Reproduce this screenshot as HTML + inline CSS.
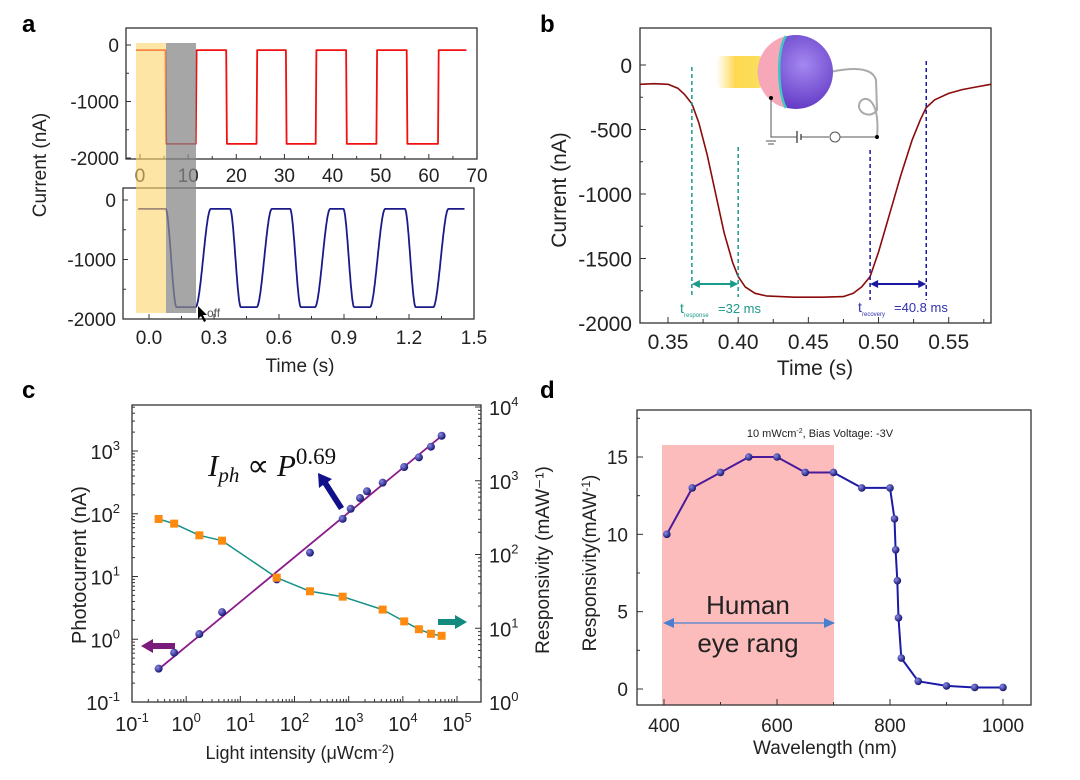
<!DOCTYPE html>
<html><head><meta charset="utf-8"><style>
html,body{margin:0;padding:0;background:#fff;}
svg{display:block;font-family:"Liberation Sans",sans-serif;}
</style></head><body>
<svg id="fig" width="1080" height="780" viewBox="0 0 1080 780" xmlns="http://www.w3.org/2000/svg">
<defs>
<radialGradient id="sph" cx="0.6" cy="0.4" r="0.7"><stop offset="0" stop-color="#a488f0"/><stop offset="1" stop-color="#5a2fc0"/></radialGradient>
<radialGradient id="dot" cx="0.35" cy="0.35" r="0.7"><stop offset="0" stop-color="#8a8ae8"/><stop offset="1" stop-color="#10106a"/></radialGradient>
<linearGradient id="glow" x1="0" x2="1"><stop offset="0" stop-color="#ffe070" stop-opacity="0"/><stop offset="0.4" stop-color="#ffd850"/><stop offset="1" stop-color="#f8e060"/></linearGradient>
</defs>
<g id="root"></g>
</svg>
<script>
// ---------- data ----------
const aTopFallEdges = [5.3, 17.9, 30.3, 42.8, 55.4];
const aTopRiseEdges = [11.6, 24.2, 36.5, 49.1, 61.9];
const aTopHigh = -90, aTopLow = -1750;
const aTopXTicks = [0,10,20,30,40,50,60,70];
const aYTicks = [0,-1000,-2000];
const aBotFallEdges = [0.077, 0.374, 0.651, 0.897, 1.181];
const aBotRiseEdges = [0.215, 0.497, 0.766, 1.020, 1.312];
const aBotHigh = -150, aBotLow = -1800;
const aBotXTicks = [0.0,0.3,0.6,0.9,1.2,1.5];
const bTimes = [0.330,0.340,0.350,0.357,0.362,0.367,0.372,0.378,0.384,0.390,0.396,0.400,0.405,0.412,0.420,0.440,0.460,0.475,0.482,0.488,0.494,0.500,0.508,0.516,0.524,0.530,0.534,0.540,0.550,0.560,0.570,0.580];
const bCurrent = [-150,-145,-150,-180,-230,-300,-450,-700,-1000,-1300,-1530,-1640,-1720,-1770,-1790,-1800,-1800,-1795,-1770,-1720,-1640,-1450,-1150,-850,-580,-420,-330,-270,-220,-190,-170,-150];
const bXTicks = [0.35,0.40,0.45,0.50,0.55];
const bYTicks = [0,-500,-1000,-1500,-2000];
const cIntensity = [0.31,0.6,1.75,4.6,47,193,775,1090,1620,2180,4240,10600,19800,33000,52000];
const cPhotocurrent = [0.34,0.61,1.21,2.7,9.0,24,83,120,178,228,313,556,793,1170,1750];
const cRespIntensity = [0.31,0.6,1.75,4.6,47,193,775,4240,10600,19800,33000,52000];
const cResponsivity = [303,262,182,154,48.5,31.7,26.8,17.9,12.4,9.7,8.4,7.9];
const cFitX = [0.306, 52000];
const cFitY = [0.33, 1740];
const cXDecades = [-1,0,1,2,3,4,5];
const cYDecades = [-1,0,1,2,3];
const cRDecades = [0,1,2,3,4];
const dWavelength = [405,450,500,550,600,650,700,750,800,808,810,813,815,820,850,900,950,1000];
const dResp = [10,13,14,15,15,14,14,13,13,11,9,7,4.6,2,0.5,0.2,0.1,0.1];
const dXTicks = [400,600,800,1000];
const dYTicks = [0,5,10,15];

// ---------- helpers ----------
const NS="http://www.w3.org/2000/svg";
const root=document.getElementById('root');
function mk(tag,attrs,parent,txt){const e=document.createElementNS(NS,tag);for(const k in attrs)e.setAttribute(k,attrs[k]);if(txt!==undefined)e.textContent=txt;(parent||root).appendChild(e);return e;}
function lin(d0,d1,r0,r1){return v=>r0+(v-d0)*(r1-r0)/(d1-d0);}
function logs(d0,d1,r0,r1){return v=>r0+(Math.log10(v)-d0)*(r1-r0)/(d1-d0);}
function smooth(u){u=Math.max(0,Math.min(1,u));return u*u*(3-2*u);}
function poly(pts,stroke,w,name){const e=mk('polyline',{points:pts.map(p=>p[0].toFixed(1)+','+p[1].toFixed(1)).join(' '),fill:'none',stroke:stroke,'stroke-width':w,'stroke-linejoin':'round'});


return e;}
function frame(x0,y0,x1,y1,name){const e=mk('rect',{x:x0,y:y0,width:x1-x0,height:y1-y0,fill:'none',stroke:'#333','stroke-width':1.3});

}
function txt(x,y,s,size,anchor,extra){const e=mk('text',Object.assign({x:x,y:y,'font-size':size,'text-anchor':anchor||'middle',fill:'#222'},extra||{}),null,s);


return e;}

// ---------- panel letters ----------
[['a',22,32],['b',540,32],['c',22,398],['d',540,398]].forEach(l=>{const e=txt(l[1],l[2],l[0],24,'start',{'font-weight':'bold',fill:'#000'});
});

// ---------- panel a top ----------
(function(){
const X=lin(0,70,140,477), Y=lin(0,-2000,45,158);
frame(126,28,477,159,'panel-a-top-frame');
aTopXTicks.forEach(v=>{mk('line',{x1:X(v),x2:X(v),y1:159,y2:154,stroke:'#333'});if(v<70)mk('line',{x1:X(v+5),x2:X(v+5),y1:159,y2:156,stroke:'#333'});
const t=txt(X(v),182,String(v),19);});
aYTicks.forEach(v=>{mk('line',{x1:126,x2:131,y1:Y(v),y2:Y(v),stroke:'#333'});if(v>-2000)mk('line',{x1:126,x2:129,y1:Y(v-500),y2:Y(v-500),stroke:'#333'});
const t=txt(119,Y(v)+7,String(v),19,'end');});
const pts=[[X(-0.8),Y(aTopHigh)]];
for(let i=0;i<aTopFallEdges.length;i++){const f=aTopFallEdges[i],r=aTopRiseEdges[i];
pts.push([X(f),Y(aTopHigh)],[X(f+0.15),Y(aTopLow)],[X(r),Y(aTopLow)],[X(r+0.15),Y(aTopHigh)]);}
pts.push([X(67.8),Y(aTopHigh)]);
poly(pts,'#f01010',1.8,'a-top-square-wave');
})();

// ---------- panel a bottom ----------
(function(){
const X=lin(0,1.5,149,474), Y=lin(0,-2000,200,319);
frame(123,188,474,319,'panel-a-bottom-frame');
aBotXTicks.forEach(v=>{mk('line',{x1:X(v),x2:X(v),y1:319,y2:314,stroke:'#333'});if(v<1.5)mk('line',{x1:X(v+0.15),x2:X(v+0.15),y1:319,y2:316,stroke:'#333'});
const t=txt(X(v),344,v.toFixed(1),19);});
aYTicks.forEach(v=>{mk('line',{x1:123,x2:128,y1:Y(v),y2:Y(v),stroke:'#333'});if(v>-2000)mk('line',{x1:123,x2:126,y1:Y(v-500),y2:Y(v-500),stroke:'#333'});
const t=txt(116,Y(v)+7,String(v),19,'end');});
const pts=[];
for(let t=-0.05;t<=1.458;t+=0.002){
 let v=aBotHigh;
 for(let i=0;i<aBotFallEdges.length;i++){const f=aBotFallEdges[i],r=aBotRiseEdges[i];
  if(t>=f&&t<r){v=aBotHigh+(aBotLow-aBotHigh)*smooth((t-f)/0.05);}
  else if(t>=r&&(i+1>=aBotFallEdges.length||t<aBotFallEdges[i+1])){const u=(t-r)/0.07;v=aBotLow+(aBotHigh-aBotLow)*Math.min(1,smooth(u));}
 }
 pts.push([X(t),Y(v)]);}
poly(pts,'#1a1a8c',1.8,'a-bottom-response-curve');
txt(46,165,'Current (nA)',19,'middle',{transform:'rotate(-90 46 165)'});
txt(300,372,'Time (s)',19);
const y1=mk('rect',{x:136,y:43,width:30,height:270,fill:'#fcd36a','fill-opacity':0.6});


const g1=mk('rect',{x:166,y:43,width:30,height:270,fill:'#888','fill-opacity':0.75});


mk('path',{d:'M198,306 l0,13 l3,-3 l3,6 l2,-1 l-3,-6 l4,0 z',fill:'#000'});
txt(207,317,'off',12,'start',{fill:'#555'});
})();

// ---------- panel b ----------
(function(){
const X=lin(0.35,0.55,668,948.7), Y=lin(0,-2000,65,323);
frame(640,28,991,323,'panel-b-frame');
bXTicks.forEach(v=>{mk('line',{x1:X(v),x2:X(v),y1:323,y2:317,stroke:'#333'});mk('line',{x1:X(v+0.025),x2:X(v+0.025),y1:323,y2:319,stroke:'#333'});
txt(X(v),349,v.toFixed(2),21);});
bYTicks.forEach(v=>{mk('line',{x1:640,x2:646,y1:Y(v),y2:Y(v),stroke:'#333'});if(v>-2000)mk('line',{x1:640,x2:643,y1:Y(v-250),y2:Y(v-250),stroke:'#333'});
txt(632,Y(v)+8,String(v),21,'end');});
txt(815,375,'Time (s)',21);
txt(566,190,'Current (nA)',21,'middle',{transform:'rotate(-90 566 190)'});
poly(bTimes.map((t,i)=>[X(t),Y(bCurrent[i])]),'#8b0a0a',1.6,'b-response-curve');
const dash=(t,ya,yb,c)=>{const e=mk('line',{x1:X(t),x2:X(t),y1:ya,y2:yb,stroke:c,'stroke-width':1.5,'stroke-dasharray':'4,3'});

};
dash(0.367,67,297,'#1a9a8a');dash(0.400,147,297,'#1a9a8a');dash(0.494,150,300,'#1a1aa0');dash(0.534,61,300,'#1a1aa0');
const arr=(xa,xb,y,c)=>{mk('line',{x1:xa+6,x2:xb-6,y1:y,y2:y,stroke:c,'stroke-width':2});
mk('path',{d:`M${xa},${y} l8,-4 l0,8 z M${xb},${y} l-8,-4 l0,8 z`,fill:c});};
arr(X(0.367),X(0.400),284,'#1a9a8a');arr(X(0.494),X(0.534),284,'#1a1aa0');
txt(680,313,'t',14,'start',{fill:'#1a9a8a'});txt(684,317,'response',6,'start',{fill:'#1a9a8a'});txt(718,313,'=32 ms',13,'start',{fill:'#1a9a8a'});
txt(858,312,'t',14,'start',{fill:'#3030b0'});txt(862,316,'recovery',6,'start',{fill:'#3030b0'});txt(894,312,'=40.8 ms',13,'start',{fill:'#3030b0'});
const g=mk('g',{});
mk('rect',{x:716,y:56,width:48,height:32,fill:'url(#glow)',rx:6},g);
mk('path',{d:'M830,72 C850,68 872,66 876,80 L877,110 C870,120 855,112 860,102 C866,94 880,100 877,137',fill:'none',stroke:'#aaa','stroke-width':2},g);
mk('circle',{cx:796,cy:72,r:37,fill:'url(#sph)'},g);
mk('path',{d:'M786,36 A37,37 0 0 0 786,108 C778,95 776,50 786,36 z',fill:'#f7a8b8'},g);
mk('path',{d:'M786,36 C776,50 778,95 786,108',fill:'none',stroke:'#40c8c8','stroke-width':2.5},g);
mk('polyline',{points:'771,98 771,137 797,137',fill:'none',stroke:'#555','stroke-width':1},g);
mk('line',{x1:797,y1:131,x2:797,y2:143,stroke:'#555','stroke-width':1.5},g);
mk('line',{x1:801,y1:134,x2:801,y2:140,stroke:'#555','stroke-width':1.5},g);
mk('line',{x1:801,y1:137,x2:829,y2:137,stroke:'#555'},g);
mk('circle',{cx:835,cy:137,r:5,fill:'#fff',stroke:'#555'},g);
mk('line',{x1:840,y1:137,x2:877,y2:137,stroke:'#555'},g);
mk('circle',{cx:771,cy:98,r:2,fill:'#000'},g);mk('circle',{cx:877,cy:137,r:2,fill:'#000'},g);
mk('line',{x1:766,y1:141,x2:776,y2:141,stroke:'#555'},g);mk('line',{x1:768,y1:144,x2:774,y2:144,stroke:'#555'},g);
})();

// ---------- panel c ----------
(function(){
const X=logs(-1,5,132,457), YL=logs(-1,3,702,451), YR=logs(0,4,702,407);
frame(132,405,481,702,'panel-c-frame');
cXDecades.forEach(d=>{const x=132+(d+1)*54.17;mk('line',{x1:x,x2:x,y1:702,y2:696,stroke:'#333'});
for(let m=2;m<10&&d<5;m++){const xm=x+Math.log10(m)*54.17;mk('line',{x1:xm,x2:xm,y1:702,y2:699,stroke:'#333'});}
const t=mk('text',{x:x,y:731,'font-size':20,'text-anchor':'middle',fill:'#222'});
mk('tspan',{},t,'10');mk('tspan',{dy:-9,'font-size':13},t,String(d));});
cYDecades.forEach(d=>{const y=YL(Math.pow(10,d));mk('line',{x1:132,x2:138,y1:y,y2:y,stroke:'#333'});
for(let m=2;m<10;m++){const ym=y-Math.log10(m)*62.75;if(ym>405)mk('line',{x1:132,x2:135,y1:ym,y2:ym,stroke:'#333'});}
const t=mk('text',{x:120,y:y+8,'font-size':20,'text-anchor':'end',fill:'#222'});
mk('tspan',{},t,'10');mk('tspan',{dy:-9,'font-size':13},t,String(d));});
cRDecades.forEach(d=>{const y=YR(Math.pow(10,d));mk('line',{x1:481,x2:475,y1:y,y2:y,stroke:'#333'});
for(let m=2;m<10&&d<4;m++){const ym=y-Math.log10(m)*73.75;mk('line',{x1:481,x2:478,y1:ym,y2:ym,stroke:'#333'});}
const t=mk('text',{x:489,y:y+8,'font-size':20,'text-anchor':'start',fill:'#222'});
mk('tspan',{},t,'10');mk('tspan',{dy:-9,'font-size':13},t,String(d));});
const xl=mk('text',{x:300,y:759,'font-size':18,'text-anchor':'middle',fill:'#222'});
mk('tspan',{},xl,'Light intensity  (μWcm');mk('tspan',{dy:-6,'font-size':12},xl,'-2');mk('tspan',{dy:6},xl,')');
txt(86,565,'Photocurrent (nA)',20,'middle',{transform:'rotate(-90 86 565)'});
txt(549,560,'Responsivity (mAW⁻¹)',19,'middle',{transform:'rotate(-90 549 560)'});
poly(cRespIntensity.map((v,i)=>[X(v),YR(cResponsivity[i])]),'#139088',1.5,'c-responsivity-line');
poly(cFitX.map((v,i)=>[X(v),YL(cFitY[i])]),'#8b1a8b',1.8,'c-power-fit-line');
cIntensity.forEach((v,i)=>{const c=mk('circle',{cx:X(v),cy:YL(cPhotocurrent[i]),r:4,fill:'url(#dot)'});

});
cRespIntensity.forEach((v,i)=>{const r=mk('rect',{x:X(v)-4,y:YR(cResponsivity[i])-4,width:8,height:8,fill:'#ff8a10'});

});
const f=mk('text',{x:208,y:476,'font-size':31,'font-family':'"Liberation Serif",serif',fill:'#111'});
mk('tspan',{'font-style':'italic'},f,'I');mk('tspan',{'font-style':'italic','font-size':21,dy:6},f,'ph');mk('tspan',{dy:-6},f,' ∝ ');mk('tspan',{'font-style':'italic'},f,'P');mk('tspan',{dy:-12,'font-size':23},f,'0.69');
mk('path',{d:'M141,646 l12,-7 l0,4 l22,0 l0,6 l-22,0 l0,4 z',fill:'#7a1a7a'});
mk('path',{d:'M467,622 l-12,-7 l0,4 l-17,0 l0,6 l17,0 l0,4 z',fill:'#138a80'});
mk('path',{d:'M318,473 l1,15 l4,-3 l16,25 l5,-3 l-16,-25 l4,-3 z',fill:'#10108a'});
})();

// ---------- panel d ----------
(function(){
const X=lin(400,1000,664,1003), Y=lin(0,15,689,457);
const pr=mk('rect',{x:662,y:445,width:172,height:260,fill:'#fdbcbc'});
frame(637,410,1031,705,'panel-d-frame');
dXTicks.forEach(v=>{mk('line',{x1:X(v),x2:X(v),y1:705,y2:699,stroke:'#333'});if(v<1000)mk('line',{x1:X(v+100),x2:X(v+100),y1:705,y2:702,stroke:'#333'});
txt(X(v),732,String(v),19);});
dYTicks.forEach(v=>{mk('line',{x1:637,x2:643,y1:Y(v),y2:Y(v),stroke:'#333'});mk('line',{x1:637,x2:640,y1:Y(v+2.5),y2:Y(v+2.5),stroke:'#333'});
txt(628,Y(v)+7,String(v),19,'end');});
txt(825,754,'Wavelength (nm)',19);
const yl=mk('text',{x:596,y:563,'font-size':19,'text-anchor':'middle',fill:'#222',transform:'rotate(-90 596 563)'});
mk('tspan',{},yl,'Responsivity(mAW');mk('tspan',{dy:-6,'font-size':12},yl,'-1');mk('tspan',{dy:6},yl,')');
const an=mk('text',{x:820,y:437,'font-size':11,'text-anchor':'middle',fill:'#222'});
mk('tspan',{},an,'10 mWcm');mk('tspan',{dy:-4,'font-size':7},an,'-2');mk('tspan',{dy:4},an,', Bias Voltage: -3V');
const inIdx=dWavelength.filter(w=>w<=700).length;
poly(dWavelength.slice(0,inIdx).map((w,i)=>[X(w),Y(dResp[i])]),'#4a1a9a',2,'d-response-line-visible');
poly(dWavelength.slice(inIdx-1).map((w,i)=>[X(w),Y(dResp[i+inIdx-1])]),'#1a1aa8',2,'d-response-line-nir');
dWavelength.forEach((w,i)=>{const c=mk('circle',{cx:X(w),cy:Y(dResp[i]),r:3.8,fill:'url(#dot)'});

});
txt(748,614,'Human',26,'middle',{fill:'#222'});
txt(748,652,'eye rang',26,'middle',{fill:'#222'});
mk('line',{x1:672,x2:826,y1:623,y2:623,stroke:'#4a7fd0','stroke-width':1.2});
mk('path',{d:'M663,623 l11,-5 l0,10 z M835,623 l-11,-5 l0,10 z',fill:'#4a7fd0'});
})();
</script>
</body></html>
